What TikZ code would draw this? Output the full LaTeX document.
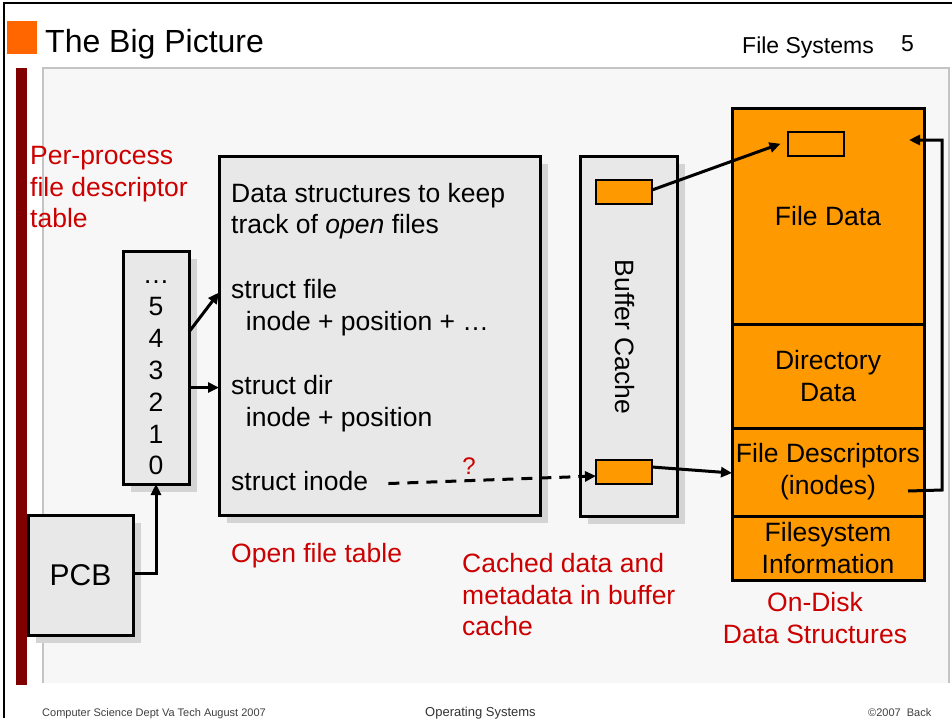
\documentclass[tikz,border=0pt]{standalone}
\usepackage{fontspec}
\setmainfont{Liberation Sans}
\usetikzlibrary{arrows.meta,shadows}

\definecolor{panelbg}{HTML}{F7F7F7}
\definecolor{panelline}{HTML}{C4C4C4}
\definecolor{boxfill}{HTML}{E8E8E8}
\definecolor{shade}{HTML}{D4D4D4}
\definecolor{diskorange}{HTML}{FF9900}
\definecolor{titleorange}{HTML}{FF6600}
\definecolor{barred}{HTML}{800000}
\definecolor{labelred}{HTML}{CC0000}

\newcommand\mainsz{\fontsize{26.5pt}{32pt}\selectfont}
\newcommand\titlesz{\fontsize{32pt}{38pt}\selectfont}
\newcommand\headsz{\fontsize{23pt}{27pt}\selectfont}

\tikzset{
  box/.style={draw=black, line width=3pt, fill=boxfill, inner sep=0pt, outer sep=0pt,
    drop shadow={shadow xshift=8pt, shadow yshift=-8pt, fill=shade, opacity=1}},
  disksec/.style={draw=black, line width=3pt, fill=diskorange, inner sep=0pt, outer sep=0pt,
    minimum width=192pt, font=\mainsz, align=center},
  cacheblk/.style={draw=black, line width=2.4pt, fill=diskorange, inner sep=0pt, outer sep=0pt,
    minimum width=56pt, minimum height=24pt},
  txt/.style={font=\mainsz, inner sep=0pt, anchor=base west},
  ctxt/.style={font=\mainsz, inner sep=0pt, anchor=base},
  redtxt/.style={txt, text=labelred},
  credtxt/.style={ctxt, text=labelred},
  arr/.style={line width=3pt, -{Triangle[length=11pt,width=10pt]}},
  dasharr/.style={arr, dash pattern=on 11pt off 8pt},
}

\begin{document}
\begin{tikzpicture}[x=1pt,y=-1pt]
\useasboundingbox (0,0) rectangle (952,718);
\fill[white] (0,0) rectangle (952,718);

% slide frame, title bar and content panel
\draw[line width=2.5pt] (4,718) -- (4,3) -- (952,3);
\fill[titleorange] (7,21) rectangle (37,54);
\fill[panelbg] (43,68) rectangle (949,683);
\draw[panelline, line width=1.2pt] (43,683) -- (43,68) -- (949,68) -- (949,683);
\fill[barred] (16,68) rectangle (27,685);

\node[font=\titlesz, inner sep=0pt, anchor=base west] (title) at (45,52) {The Big Picture};
\node[font=\headsz, inner sep=0pt, anchor=base west] (topic) at (742,53) {File Systems};
\node[font=\headsz, inner sep=0pt, anchor=base west] (pageno) at (901,51) {5};

% footer
\node[font=\fontsize{11pt}{13pt}\selectfont, text=black!75, inner sep=0pt, anchor=base west] (foot1) at (42,716) {Computer Science Dept Va Tech August 2007};
\node[font=\fontsize{13pt}{15pt}\selectfont, text=black!80, inner sep=0pt, anchor=base west] (foot2) at (425,716) {Operating Systems};
\node[font=\fontsize{11pt}{13pt}\selectfont, text=black!75, inner sep=0pt, anchor=base west] (foot3) at (868,716) {\textcopyright2007\ \ Back};

% per-process descriptor table
\node[redtxt] (lbl1) at (30,164) {Per-process};
\node[redtxt] (lbl2) at (30,196) {file descriptor};
\node[redtxt] (lbl3) at (30,227) {table};

\node[box, minimum width=66pt, minimum height=233pt] (fd) at (156,367.5) {};
\node[ctxt] (ndots) at (156,283) {\dots};
\node[ctxt] (n5) at (156,315) {5};
\node[ctxt] (n4) at (156,347) {4};
\node[ctxt] (n3) at (156,379) {3};
\node[ctxt] (n2) at (156,411) {2};
\node[ctxt] (n1) at (156,443) {1};
\node[ctxt] (n0) at (156,474) {0};

% process control block
\node[box, minimum width=105pt, minimum height=120pt, font=\fontsize{30pt}{34pt}\selectfont] (pcb) at (80.5,575) {PCB};

% open file table
\node[box, minimum width=321pt, minimum height=359pt] (oft) at (379.5,335.5) {};
\node[txt] (intro1) at (231,202) {Data structures to keep};
\node[txt] (intro2) at (231,233) {track of \textit{open} files};
\node[txt] (sfile) at (231,298) {struct file};
\node[txt] (sfilec) at (231,330) {\ \ inode + position + \dots};
\node[txt] (sdir) at (231,394) {struct dir};
\node[txt] (sdirc) at (231,426) {\ \ inode + position};
\node[txt] (sinode) at (231,490) {struct inode};
\node[redtxt] (oftlbl) at (231,562) {Open file table};

% buffer cache
\node[box, minimum width=97pt, minimum height=360pt] (bc) at (628.5,336) {};
\node[font=\mainsz, inner sep=0pt, rotate=-90] (bctxt) at (625,337) {Buffer Cache};
\node[cacheblk] (bcHi) at (624,192) {};
\node[cacheblk] (bcLo) at (624,472) {};
\node[redtxt] (cl1) at (462,572) {Cached data and};
\node[redtxt] (cl2) at (462,604) {metadata in buffer};
\node[redtxt] (cl3) at (462,635) {cache};

% on-disk layout
\node[disksec, minimum height=216pt] (sFile) at (828,216) {File Data};
\node[disksec, minimum height=104pt] (sDir) at (828,376) {Directory\\Data};
\node[disksec, minimum height=88pt] (sDesc) at (828,472) {File Descriptors\\(inodes)};
\node[disksec, minimum height=64pt] (sInfo) at (828,548) {Filesystem\\Information};
\node[cacheblk] (blk) at (816,144) {};
\node[credtxt] (dl1) at (815,611) {On-Disk};
\node[credtxt] (dl2) at (815,643) {Data Structures};

% connectors
\draw[arr] ([yshift=6pt]fd.east |- n4) -- ([yshift=-4pt]oft.west |- sfile.center);
\draw[arr] ([yshift=-3pt]fd.east |- sdir.center) -- ([yshift=-3pt]oft.west |- sdir.center);
\draw[arr] ([yshift=2pt]pcb.east) -| (fd.south);
\draw[dasharr] ([xshift=20pt,yshift=-3pt]sinode.east) -- ([yshift=-4pt]bcLo.west);
\node[font=\fontsize{24pt}{28pt}\selectfont, text=labelred, inner sep=0pt, anchor=base] (qmark) at (469,474) {?};
\draw[arr] ([yshift=5pt]bcLo.east) -- ([yshift=-1pt]sDesc.west);
\draw[arr, shorten >=8pt] ([yshift=2pt]bcHi.east) -- ([yshift=3pt]blk.west);
\coordinate (loopS) at (908,491);
\coordinate (loopE) at (909,140);
\draw[arr] (loopS) -- (942,490) |- (loopE);
\end{tikzpicture}
\end{document}
